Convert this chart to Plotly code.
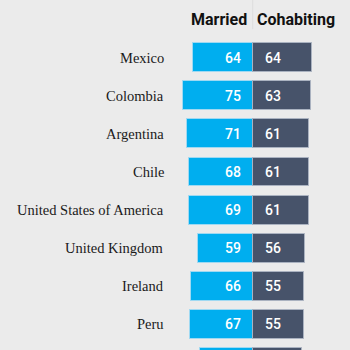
import plotly.graph_objects as go

countries = ["Mexico", "Colombia", "Argentina", "Chile", "United States of America",
             "United Kingdom", "Ireland", "Peru", ""]
married = [64, 75, 71, 68, 69, 59, 66, 67, 57]
cohabiting = [64, 63, 61, 61, 61, 56, 55, 55, 53]
headers = ["Married", "Cohabiting"]

BLUE = "#00aeef"
SLATE = "#47536a"
BG = "#ebebeb"
NUM_FONT = "Roboto, sans-serif"
NAME_FONT = "Liberation Serif, DejaVu Serif, serif"

rows = list(range(len(countries)))

fig = go.Figure()
fig.add_trace(go.Bar(
    y=rows, x=[-v for v in married], orientation="h", width=0.76,
    marker=dict(color=BLUE, line=dict(color="#9fd9f2", width=1)),
    hoverinfo="skip",
))
fig.add_trace(go.Bar(
    y=rows, x=cohabiting, orientation="h", width=0.76,
    marker=dict(color=SLATE, line=dict(color="#aab2c0", width=1)),
    hoverinfo="skip",
))

ann = []
for i, (name, m, c) in enumerate(zip(countries, married, cohabiting)):
    ann.append(dict(x=-93.5, y=i, text=name, showarrow=False, xanchor="right",
                    yanchor="middle", font=dict(family=NAME_FONT, size=14.5, color="#1a1a1a")))
    ann.append(dict(x=-10.5, y=i, text=str(m), showarrow=False, xanchor="right",
                    yanchor="middle",
                    font=dict(family=NUM_FONT, size=14, color="white", weight=500)))
    ann.append(dict(x=11.5, y=i, text=str(c), showarrow=False, xanchor="left",
                    yanchor="middle",
                    font=dict(family=NUM_FONT, size=14, color="white", weight=500)))

ann.append(dict(x=-36, y=-1.0, text="<b>%s</b>" % headers[0], showarrow=False,
                font=dict(family=NUM_FONT, size=16, color="#111111")))
ann.append(dict(x=46.5, y=-1.0, text="<b>%s</b>" % headers[1], showarrow=False,
                font=dict(family=NUM_FONT, size=16, color="#111111")))

fig.update_layout(
    width=350, height=350,
    margin=dict(l=0, r=0, t=0, b=0),
    paper_bgcolor=BG, plot_bgcolor=BG,
    barmode="overlay", showlegend=False, bargap=0,
    annotations=ann,
    shapes=[dict(type="line", x0=0, x1=0, y0=-1.514, y1=-0.75,
                 line=dict(color="#dedede", width=1))],
    xaxis=dict(range=[-271.7, 104.6], visible=False, fixedrange=True),
    yaxis=dict(range=[7.672, -1.514], visible=False, fixedrange=True),
)

fig.write_html("out.html")
